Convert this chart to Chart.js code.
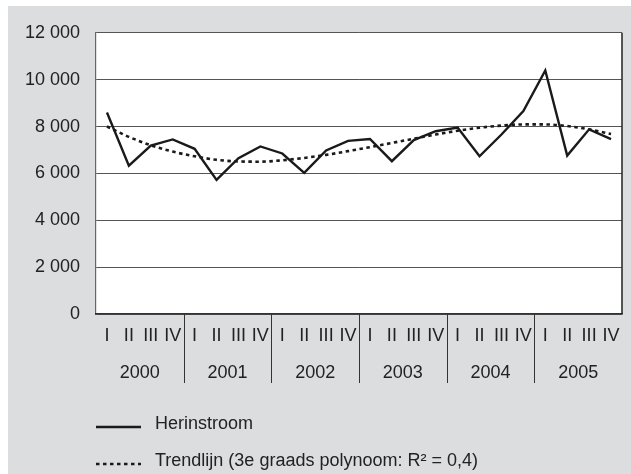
<!DOCTYPE html>
<html>
<head>
<meta charset="utf-8">
<script src="https://cdn.jsdelivr.net/npm/chart.js@4"></script>
<style>
    html, body { margin: 0; padding: 0; background: #ffffff; }
    body { width: 631px; height: 474px; position: relative; overflow: hidden; }
    #paneel { position: absolute; left: 8px; top: 6px; width: 623px; height: 468px; background: #dcdddf; }
</style>
</head>
<body>
<div id="paneel"><canvas id="grafiek" width="623" height="468"></canvas></div>
<script>
const jaren = ['2000', '2001', '2002', '2003', '2004', '2005'];
const kwartalen = ['I', 'II', 'III', 'IV'];
const herinstroom = [8600, 6330, 7190, 7450, 7050, 5720, 6650, 7150, 6850, 6020, 6980, 7390,
    7470, 6520, 7420, 7800, 7960, 6730, 7660, 8660, 10390, 6760, 7880, 7460];
const trendlijn = [8000, 7560, 7200, 6930, 6730, 6580, 6510, 6500, 6560, 6660, 6790, 6950,
    7120, 7300, 7480, 7660, 7820, 7950, 8040, 8090, 8090, 8020, 7880, 7680];
const yMin = 0;
const yMax = 12000;
const yStap = 2000;

const lettertype = "'Liberation Sans', Arial, sans-serif";
const tekstKleur = '#222';

const labels = jaren.flatMap(() => kwartalen);

function metSpatie(v) {
    return String(v).replace(/\B(?=(\d{3})+(?!\d))/g, ' ');
}

// witte achtergrond en kader om het plotgebied
const kaderPlugin = {
    id: 'kader',
    beforeDraw(chart) {
        const a = chart.chartArea;
        const ctx = chart.ctx;
        ctx.save();
        ctx.fillStyle = '#ffffff';
        ctx.fillRect(a.left, a.top, a.right - a.left, a.bottom - a.top);
        ctx.restore();
    },
    afterDraw(chart) {
        const a = chart.chartArea;
        const ctx = chart.ctx;
        ctx.save();
        ctx.strokeStyle = '#222';
        ctx.lineWidth = 1.5;
        ctx.beginPath();
        ctx.moveTo(a.right, a.top);
        ctx.lineTo(a.right, a.bottom);
        ctx.stroke();

        // scheidingslijnen tussen de jaren
        const x2 = chart.scales.x2;
        ctx.strokeStyle = '#333';
        ctx.lineWidth = 1;
        for (let j = 1; j < jaren.length; j++) {
            const xp = Math.round((x2.getPixelForValue(j - 1) + x2.getPixelForValue(j)) / 2) + 0.5;
            ctx.beginPath();
            ctx.moveTo(xp, a.bottom);
            ctx.lineTo(xp, x2.bottom - 1);
            ctx.stroke();
        }

        // legenda
        const basis = x2.bottom;
        const rijen = [basis + 43, basis + 80];
        chart.data.datasets.forEach((ds, i) => {
            const y = rijen[i];
            ctx.strokeStyle = ds.borderColor;
            ctx.lineWidth = ds.borderWidth;
            ctx.setLineDash(ds.borderDash || []);
            ctx.beginPath();
            ctx.moveTo(a.left, y);
            ctx.lineTo(a.left + 45, y);
            ctx.stroke();
            ctx.setLineDash([]);
            ctx.fillStyle = tekstKleur;
            ctx.font = '18px ' + lettertype;
            ctx.textBaseline = 'alphabetic';
            ctx.textAlign = 'left';
            ctx.fillText(ds.label, a.left + 59, y + 2);
        });
        ctx.restore();
    }
};

new Chart(document.getElementById('grafiek'), {
    type: 'line',
    data: {
        labels: labels,
        datasets: [{
            label: 'Herinstroom',
            data: herinstroom,
            borderColor: '#1a1a1a',
            borderWidth: 2.4,
            pointRadius: 0,
            tension: 0
        }, {
            label: 'Trendlijn (3e graads polynoom: R\u00B2 = 0,4)',
            data: trendlijn,
            borderColor: '#1a1a1a',
            borderWidth: 2.6,
            borderDash: [3.5, 3.5],
            pointRadius: 0,
            cubicInterpolationMode: 'monotone'
        }]
    },
    options: {
        responsive: false,
        animation: false,
        layout: {
            padding: { top: 24, right: 9, left: 0, bottom: 90 }
        },
        plugins: {
            legend: { display: false },
            tooltip: { enabled: false }
        },
        scales: {
            y: {
                min: yMin,
                max: yMax,
                afterFit(scale) { scale.width = 88; },
                ticks: {
                    stepSize: yStap,
                    padding: 16,
                    color: tekstKleur,
                    font: { family: lettertype, size: 18 },
                    callback: (v) => metSpatie(v)
                },
                grid: { color: '#555', lineWidth: 1, drawTicks: false },
                border: { display: true, color: '#666', width: 1.2 }
            },
            x: {
                type: 'category',
                position: 'bottom',
                offset: true,
                afterFit(scale) { scale.height = 40; },
                ticks: {
                    autoSkip: false,
                    maxRotation: 0,
                    padding: 11,
                    color: tekstKleur,
                    font: { family: lettertype, size: 18 }
                },
                grid: { display: true, drawOnChartArea: false, drawTicks: false },
                border: { display: true, color: '#333', width: 1.5 }
            },
            x2: {
                type: 'category',
                position: 'bottom',
                labels: jaren,
                offset: true,
                afterFit(scale) { scale.height = 30; },
                ticks: {
                    autoSkip: false,
                    maxRotation: 0,
                    padding: 8,
                    color: tekstKleur,
                    font: { family: lettertype, size: 18 }
                },
                grid: { display: false, drawTicks: false },
                border: { display: false }
            }
        }
    },
    plugins: [kaderPlugin]
});
</script>
</body>
</html>
